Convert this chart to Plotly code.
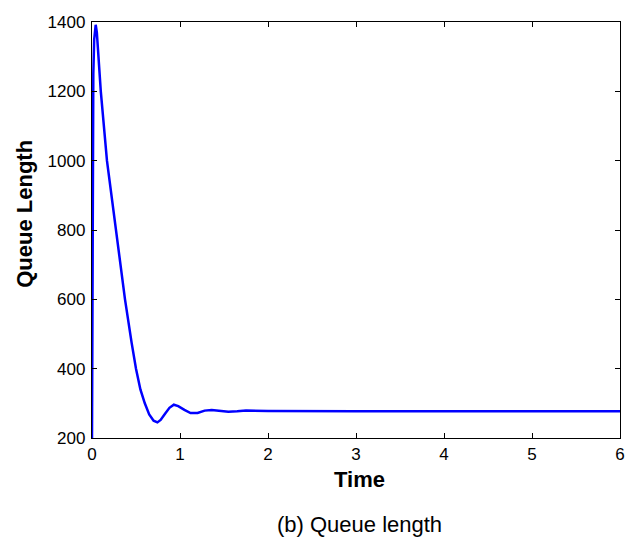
import plotly.graph_objects as go

# values
time = [0, 0.003, 0.008, 0.015, 0.025, 0.035, 0.042, 0.055, 0.075, 0.10, 0.17,
        0.27, 0.375, 0.45, 0.50, 0.55, 0.60, 0.65, 0.70, 0.743, 0.78, 0.83,
        0.88, 0.93, 0.98, 1.05, 1.12, 1.20, 1.28, 1.36, 1.45, 1.55, 1.65,
        1.75, 2.0, 2.5, 3.0, 4.0, 5.0, 6.0]
queue = [200, 600, 1000, 1250, 1350, 1385, 1392, 1370, 1300, 1200, 1000,
         800, 600, 475, 400, 340, 300, 268, 250, 245, 252, 270,
         287, 296, 292, 281, 272, 272, 279, 281, 279, 276, 277,
         279, 278, 277, 277, 277, 277, 277]

x_ticks = [0, 1, 2, 3, 4, 5, 6]
y_ticks = [200, 400, 600, 800, 1000, 1200, 1400]

font_name = "Liberation Sans, Arial, sans-serif"

fig = go.Figure()

fig.add_trace(go.Scatter(
    x=time,
    y=queue,
    mode="lines",
    line=dict(color="#0000ff", width=2.5),
    showlegend=False,
))

axis_style = dict(
    showline=True,
    linecolor="black",
    linewidth=1.3,
    mirror="ticks",
    ticks="inside",
    ticklen=5,
    tickcolor="black",
    showgrid=False,
    zeroline=False,
    automargin=False,
    tickfont=dict(family=font_name, size=17, color="black"),
)

fig.update_layout(
    width=630,
    height=538,
    margin=dict(l=92, r=10, t=22, b=100),
    paper_bgcolor="white",
    plot_bgcolor="white",
    font=dict(family=font_name, color="black"),
    xaxis=dict(range=[0, 6], tickvals=x_ticks, **axis_style),
    yaxis=dict(range=[200, 1400], tickvals=y_ticks, ticklabelstandoff=2,
               **axis_style),
    annotations=[
        # y axis title
        dict(
            text="<b>Queue Length</b>",
            xref="paper", yref="paper",
            x=-0.128, y=0.54,
            xanchor="center", yanchor="middle",
            textangle=-90,
            showarrow=False,
            font=dict(size=22, family=font_name, color="black"),
        ),
        # x axis title
        dict(
            text="<b>Time</b>",
            xref="paper", yref="paper",
            x=0.507, y=-0.10,
            xanchor="center", yanchor="middle",
            showarrow=False,
            font=dict(size=22, family=font_name, color="black"),
        ),
        # caption
        dict(
            text="(b) Queue length",
            xref="paper", yref="paper",
            x=0.507, y=-0.207,
            xanchor="center", yanchor="middle",
            showarrow=False,
            font=dict(size=22, family=font_name, color="black"),
        ),
    ],
)

# drop the default 8px page margin so the figure fills the window exactly
fig.write_html(
    "out.html",
    config=dict(displayModeBar=False),
    post_script="document.body.style.margin='0';"
                "document.body.style.overflow='hidden';",
)
